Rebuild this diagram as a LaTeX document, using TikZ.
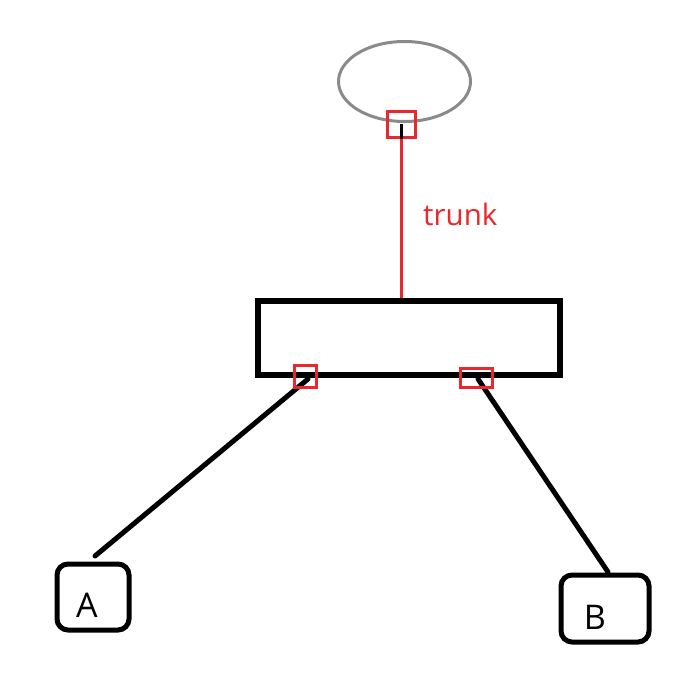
\documentclass[tikz,border=0pt]{standalone}
\usepackage{fontspec}
\setmainfont{Open Sans}
\usetikzlibrary{shapes.geometric}
\definecolor{pred}{RGB}{232,40,44}
\definecolor{pgray}{RGB}{138,138,138}
\begin{document}
\begin{tikzpicture}[x=1pt,y=-1pt,
  port/.style={draw=pred,line width=3pt,inner sep=0pt,rectangle},
  termbox/.style={draw=black,line width=5pt,rounded corners=11pt,inner sep=0pt,rectangle},
  wire/.style={draw=black,line width=5pt,line cap=round},
  lab/.style={font=\fontsize{34}{34}\selectfont,inner sep=0pt}]
\useasboundingbox[fill=white] (0,0) rectangle (677,690);
\node (cloud) [ellipse,draw=pgray,line width=3pt,minimum width=132pt,minimum height=80pt,inner sep=0pt] at (404.5,81.5) {};
\node (switch) [rectangle,draw=black,line width=6pt,minimum width=302pt,minimum height=74pt,inner sep=0pt] at (409,338) {};
\node (A) [termbox,minimum width=72pt,minimum height=66pt] at (93,597) {};
\node (B) [termbox,minimum width=88pt,minimum height=67pt] at (605,608.5) {};
\node (Alab) [lab] at (87,605) {A};
\node (Blab) [lab] at (595,617) {B};
\coordinate (aend) at (95,556);
\coordinate (bend) at (608,572);
\coordinate (ltap) at (308,379);
\coordinate (rtap) at (478,379);
\draw[wire] (ltap) -- (aend);
\draw[wire] (rtap) -- (bend);
\node (topport) [port,minimum width=28pt,minimum height=26pt] at (401.5,124.5) {};
\draw[pred,line width=3pt] (topport.south) -- (topport.south |- switch.north);
\draw[black,line width=2.5pt] (topport.center) -- (topport.south);
\node (lport) [port,minimum width=22pt,minimum height=22pt] at (305.5,376.5) {};
\node (rport) [port,minimum width=32pt,minimum height=19pt] at (476.5,378) {};
\node (trunk) [anchor=base west,text=pred,font=\fontsize{29.5}{30}\selectfont,inner sep=0pt] at (423,225) {trunk};
\end{tikzpicture}
\end{document}
